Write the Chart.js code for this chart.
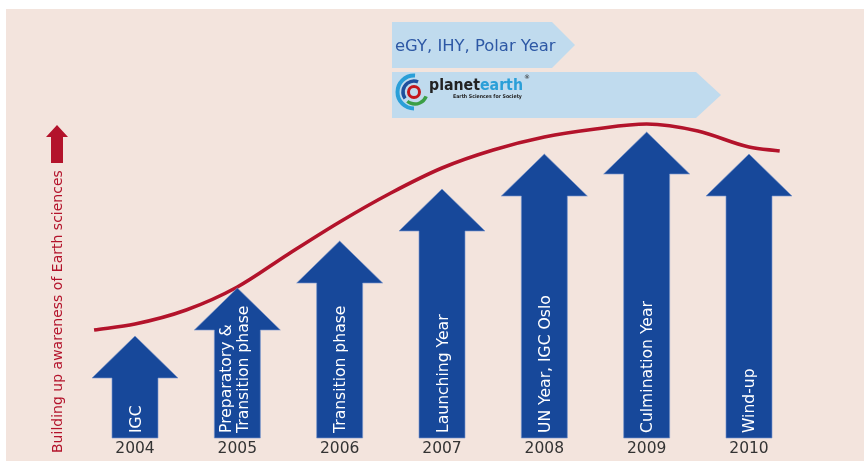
<!DOCTYPE html>
<html><head><meta charset="utf-8">
<script src="https://cdn.jsdelivr.net/npm/chart.js@4.4.1/dist/chart.umd.min.js"></script>
<style>html,body{margin:0;padding:0;background:#fff;overflow:hidden}canvas{display:block}</style>
</head><body>
<canvas id="c" width="864" height="461" style="width:864px;height:461px"></canvas>
<script>
// ---- data ----
const years = [2004, 2005, 2006, 2007, 2008, 2009, 2010];
const phaseLabels = [["IGC"], ["Preparatory &", "Transition phase"], ["Transition phase"], ["Launching Year"], ["UN Year, IGC Oslo"], ["Culmination Year"], ["Wind-up"]];
const arrowLevels = [25.5, 37.5, 49.25, 62.25, 71, 76.5, 71];
const curveX = [2003.6, 2004, 2004.5, 2005, 2005.5, 2006, 2006.5, 2007, 2007.5, 2008, 2008.5, 2009, 2009.5, 2010, 2010.3];
const curveY = [27, 28.5, 32, 37.75, 46, 54, 61.25, 67.5, 72, 75.25, 77.25, 78.5, 76.75, 72.75, 71.75];
const axisTitle = "Building up awareness of Earth sciences";
const bannerText = "eGY, IHY, Polar Year";
const logoWords = ["planet", "earth"];
const logoTagline = "Earth Sciences for Society";

const BLUE = '#17489a', RED = '#b3132b', PINK = '#f3e4dd', LIGHTBLUE = '#c0dbee';

function fitFont(ctx, text, weight, family, width) {
  ctx.font = weight + ' 100px ' + family;
  const w = ctx.measureText(text).width;
  return weight + ' ' + (100 * width / w).toFixed(2) + 'px ' + family;
}

const deco = {
  id: 'deco',
  beforeDraw(chart) {
    const ctx = chart.ctx;
    ctx.save();
    ctx.fillStyle = '#fff'; ctx.fillRect(0, 0, chart.width, chart.height);
    ctx.fillStyle = PINK; ctx.fillRect(6, 9, chart.width - 6, chart.height - 9);
    ctx.restore();
  },
  beforeDatasetsDraw(chart) {
    const ctx = chart.ctx;
    ctx.save();
    // banners
    const L = 392;
    function banner(x0, x1, xt, y0, y1) {
      ctx.beginPath();
      ctx.moveTo(x0, y0); ctx.lineTo(x1, y0); ctx.lineTo(xt, (y0 + y1) / 2);
      ctx.lineTo(x1, y1); ctx.lineTo(x0, y1); ctx.closePath();
      ctx.fillStyle = LIGHTBLUE; ctx.fill();
    }
    banner(L, 552, 575, 22, 68);
    banner(L, 696, 721, 72, 118);
    ctx.fillStyle = '#2d58a5';
    ctx.font = '16.4px "DejaVu Sans"';
    ctx.textBaseline = 'alphabetic'; ctx.textAlign = 'left';
    ctx.fillText(bannerText, 395, 50.5);

    // logo
    const cx = 414, cy = 92;
    ctx.lineCap = 'butt';
    ctx.lineWidth = 4; ctx.strokeStyle = '#2a9fd8';
    ctx.beginPath(); ctx.arc(cx, cy, 16.5, 0.5 * Math.PI, 1.52 * Math.PI); ctx.stroke();
    ctx.lineWidth = 3.5; ctx.strokeStyle = '#1f4f9d';
    ctx.beginPath(); ctx.arc(cx, cy, 11, 0.8 * Math.PI, 1.62 * Math.PI); ctx.stroke();
    ctx.lineWidth = 3.5; ctx.strokeStyle = '#3a9e45';
    ctx.beginPath(); ctx.arc(cx + 1, cy, 12, 0.12 * Math.PI, 0.72 * Math.PI); ctx.stroke();
    ctx.lineWidth = 3; ctx.strokeStyle = '#c4161c';
    ctx.beginPath(); ctx.arc(cx, cy, 5.5, 0, 2 * Math.PI); ctx.stroke();

    const fam = '"DejaVu Sans Condensed", "DejaVu Sans"';
    ctx.font = fitFont(ctx, logoWords.join(''), 'bold', fam, 94);
    ctx.fillStyle = '#222';
    ctx.fillText(logoWords[0], 429, 90);
    const w0 = ctx.measureText(logoWords[0]).width;
    ctx.fillStyle = '#2a9fd8';
    ctx.fillText(logoWords[1], 429 + w0, 90);
    ctx.fillStyle = '#222';
    ctx.font = fitFont(ctx, logoTagline, 'bold', fam, 69);
    ctx.fillText(logoTagline, 453, 98);
    ctx.font = '6px "DejaVu Sans"';
    ctx.fillText('\u00AE', 524, 79);

    // y axis title + red arrow
    ctx.fillStyle = RED;
    ctx.beginPath();
    ctx.moveTo(57, 125); ctx.lineTo(68, 137); ctx.lineTo(63, 137); ctx.lineTo(63, 163);
    ctx.lineTo(51, 163); ctx.lineTo(51, 137); ctx.lineTo(46, 137); ctx.closePath(); ctx.fill();
    ctx.save();
    ctx.translate(62, 453); ctx.rotate(-Math.PI / 2);
    ctx.font = fitFont(ctx, axisTitle, 'normal', '"DejaVu Sans"', 283);
    ctx.fillText(axisTitle, 0, 0);
    ctx.restore();
    ctx.restore();
  },
  afterDatasetsDraw(chart) {
    const ctx = chart.ctx;
    const meta = chart.getDatasetMeta(0);
    ctx.save();
    meta.data.forEach((el, i) => {
      const x = el.x, tip = el.y, base = el.base;
      const sw = 23, hw = 43, hh = 42;
      ctx.beginPath();
      ctx.moveTo(x, tip); ctx.lineTo(x + hw, tip + hh); ctx.lineTo(x + sw, tip + hh);
      ctx.lineTo(x + sw, base); ctx.lineTo(x - sw, base); ctx.lineTo(x - sw, tip + hh);
      ctx.lineTo(x - hw, tip + hh); ctx.closePath();
      ctx.fillStyle = BLUE; ctx.fill();
      ctx.lineWidth = 0.8; ctx.strokeStyle = 'rgba(120,150,205,0.8)'; ctx.stroke();
      // label
      const lines = phaseLabels[i];
      const n = lines.length;
      const centre = n > 1 ? 2.25 : 5.5;
      ctx.fillStyle = '#fff';
      ctx.font = '15.6px "DejaVu Sans"';
      ctx.textAlign = 'left'; ctx.textBaseline = 'alphabetic';
      lines.forEach((t, k) => {
        const off = centre + (k - (n - 1) / 2) * 16.5;
        ctx.save();
        ctx.translate(x + off, base - 5);
        ctx.rotate(-Math.PI / 2);
        ctx.fillText(t, 0, 0);
        ctx.restore();
      });
    });
    ctx.restore();
  }
};

new Chart(document.getElementById('c'), {
  data: {
    datasets: [
      { type: 'bar', data: years.map((y, i) => ({ x: y, y: arrowLevels[i] })),
        backgroundColor: 'rgba(0,0,0,0)', borderWidth: 0, barThickness: 46, order: 2 },
      { type: 'line', data: curveX.map((x, i) => ({ x: x, y: curveY[i] })),
        borderColor: RED, borderWidth: 3.6, pointRadius: 0, cubicInterpolationMode: 'monotone',
        fill: false, order: 1 }
    ]
  },
  options: {
    responsive: false, animation: false, events: [],
    layout: { padding: { left: 32.67, right: 12.67, top: 38, bottom: 0 } },
    plugins: { legend: { display: false }, tooltip: { enabled: false } },
    scales: {
      x: {
        type: 'linear', min: 2003, max: 2011, offset: false,
        grid: { display: false, drawTicks: false }, border: { display: false },
        afterBuildTicks: s => { s.ticks = years.map(v => ({ value: v })); },
        afterFit: s => { s.height = 23; },
        ticks: { callback: v => String(v), color: '#333', font: { family: 'DejaVu Sans', size: 15.5 },
                 padding: 2, maxRotation: 0, autoSkip: false }
      },
      y: { display: false, min: 0, max: 100 }
    }
  },
  plugins: [deco]
});
</script>
</body></html>
